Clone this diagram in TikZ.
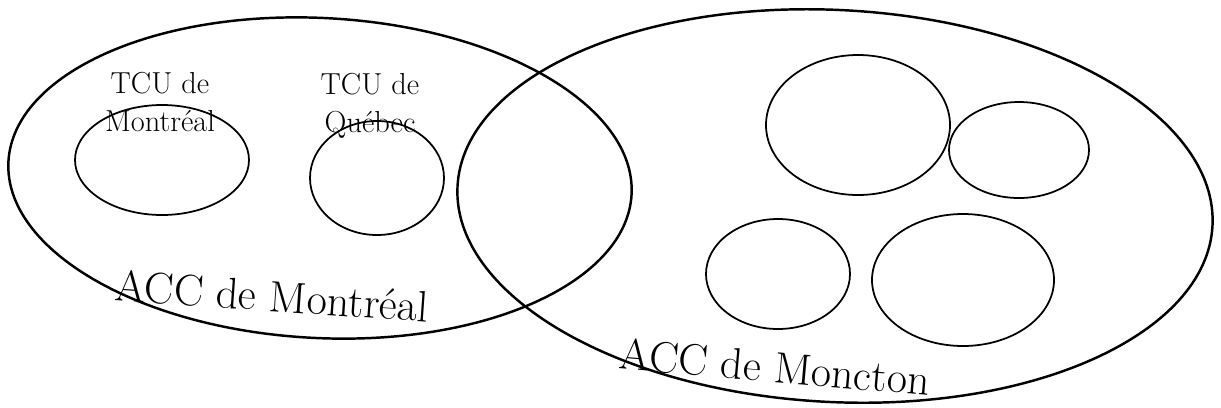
\documentclass[tikz,border=0pt]{standalone}
\usepackage{tikz}
\begin{document}
\begin{tikzpicture}[x=0.02cm,y=-0.02cm,
  accline/.style={line width=1.4pt},
  tculine/.style={line width=1pt},
  tculbl/.style={align=center,font=\LARGE,inner sep=0pt},
  acclbl/.style={font=\fontsize{25}{30}\selectfont,inner sep=0pt}]

\useasboundingbox (0,0) rectangle (1221,407);

\draw[accline,rotate around={-3:(320,178)}] (320,178) ellipse [x radius=312, y radius=160];
\draw[accline,rotate around={-3:(835,206)}] (835,206) ellipse [x radius=378, y radius=196];

\draw[tculine] (162,160) ellipse [x radius=87, y radius=55];
\draw[tculine] (377,178) ellipse [x radius=67, y radius=57];

\draw[tculine] (858,125) ellipse [x radius=92, y radius=70];
\draw[tculine] (1019,150) ellipse [x radius=70, y radius=48];
\draw[tculine] (778,274) ellipse [x radius=72, y radius=55];
\draw[tculine] (963,280) ellipse [x radius=91, y radius=66];

\node[tculbl] (tcumtl) at (160,102) {TCU de\\Montréal};
\node[tculbl] (tcuqc) at (370,106) {TCU de\\Québec};
\node[acclbl,rotate=-4] (accmtl) at (272,296) {ACC de Montréal};
\node[acclbl,rotate=-5] (accmct) at (775,367) {ACC de Moncton};

\end{tikzpicture}
\end{document}
